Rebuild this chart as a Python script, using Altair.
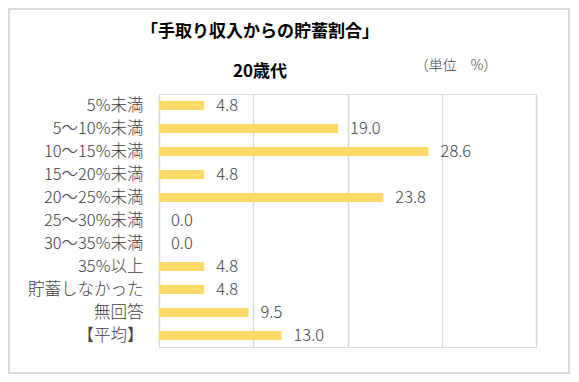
import altair as alt
import pandas as pd

categories = ["5%未満", "5～10%未満", "10～15%未満", "15～20%未満", "20～25%未満",
              "25～30%未満", "30～35%未満", "35%以上", "貯蓄しなかった", "無回答", "【平均】"]
values = [4.8, 19.0, 28.6, 4.8, 23.8, 0.0, 0.0, 4.8, 4.8, 9.5, 13.0]
x_ticks = [0, 10, 20, 30, 40]

title_main = "「手取り収入からの貯蓄割合」"
title_sub = "20歳代"
unit_text = "（単位　%）"

df = pd.DataFrame({"cat": categories, "val": values})

W, H = 377, 253
FONT = "Noto Sans CJK JP"
GRAY = "#404040"

x_enc = alt.X("val:Q", scale=alt.Scale(domain=[0, 40], nice=False),
              axis=alt.Axis(values=x_ticks, labels=False, ticks=False, domain=False,
                            grid=True, gridColor="#D9D9D9", gridWidth=1.5, title=None))
y_enc = alt.Y("cat:N", sort=categories, scale=alt.Scale(paddingInner=0.6, paddingOuter=0.3),
              axis=alt.Axis(title=None, ticks=False, domain=False, labelPadding=16,
                            labelFont=FONT, labelFontSize=16.5, labelColor=GRAY,
                            labelFontWeight=300))

base = alt.Chart(df)
bars = base.mark_bar(color="#FFD966").encode(x=x_enc, y=y_enc)
labels = base.mark_text(align="left", baseline="middle", dx=12, font=FONT,
                        fontSize=16.5, fontWeight=300, color=GRAY).encode(
    x="val:Q", y=alt.Y("cat:N", sort=categories), text=alt.Text("val:Q", format=".1f"))

t1 = alt.Chart(pd.DataFrame({"t": [title_main]})).mark_text(
    font=FONT, fontSize=17, fontWeight="bold", color="#000000", align="center",
    baseline="middle").encode(x=alt.value(101), y=alt.value(-62), text="t:N")
t2 = alt.Chart(pd.DataFrame({"t": [title_sub]})).mark_text(
    font=FONT, fontSize=17, fontWeight="bold", color="#000000", align="center",
    baseline="middle").encode(x=alt.value(101), y=alt.value(-22), text="t:N")
t3 = alt.Chart(pd.DataFrame({"t": [unit_text]})).mark_text(
    font=FONT, fontSize=14, fontWeight=300, color=GRAY, align="center",
    baseline="middle").encode(x=alt.value(297), y=alt.value(-28), text="t:N")

frame = alt.Chart(pd.DataFrame({"a": [0]})).mark_rect(
    fill=None, stroke="#D9D9D9", strokeWidth=2).encode(
    x=alt.value(-150), x2=alt.value(410), y=alt.value(-85), y2=alt.value(H + 26))

chart = alt.layer(frame, bars, labels, t1, t2, t3).properties(
    width=W, height=H,
    autosize=alt.AutoSizeParams(type="none"),
    padding={"left": 151, "top": 86, "right": 35, "bottom": 27},
).configure_view(stroke=None).configure(background="white")

chart.save("out.html", embed_options={"renderer": "svg", "actions": False})
